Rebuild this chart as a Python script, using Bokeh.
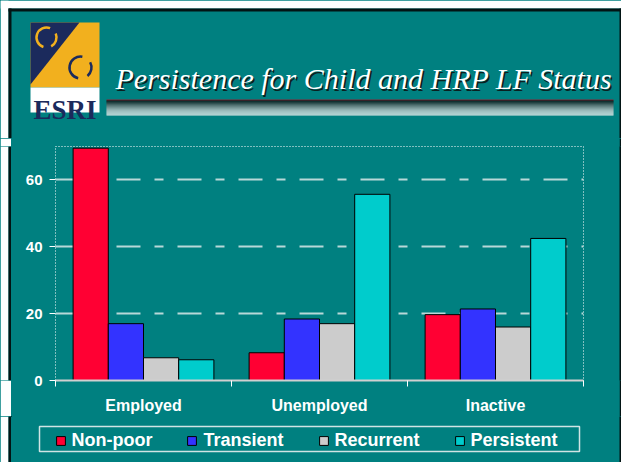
from bokeh.plotting import figure
from bokeh.models import (ColumnDataSource, Range1d, LinearAxis, FixedTicker, Legend, LegendItem)
from bokeh.transform import dodge
from bokeh.layouts import column, row
from bokeh.core.properties import value
from bokeh.embed import file_html
from bokeh.resources import INLINE

# ---------------- data ----------------
categories = ["Employed", "Unemployed", "Inactive"]
series_names = ["Non-poor", "Transient", "Recurrent", "Persistent"]
non_poor = [69.5, 8.3, 19.7]
transient = [17.0, 18.4, 21.4]
recurrent = [6.8, 17.0, 16.0]
persistent = [6.2, 55.7, 42.5]
y_ticks = [0, 20, 40, 60]
title_text = "Persistence for Child and HRP LF Status"
logo_text = "ESRI"

# ---------------- styles ----------------
TEAL = "#008080"
DARK = "#021414"
NAVY = "#1b2a5c"
GOLD = "#f2b01e"
bar_colors = ["#FF0033", "#3333FF", "#CCCCCC", "#00CCCC"]
SANS = "Liberation Sans"
SERIF = "Liberation Serif"


def blank(width, height, xr, yr, fill, border=None):
    f = figure(width=width, height=height, x_range=xr, y_range=yr,
               output_backend="svg", toolbar_location=None,
               x_axis_location=None, y_axis_location=None, min_border=0,
               background_fill_color=fill, border_fill_color=border or fill,
               outline_line_color=None)
    f.grid.visible = False
    return f


def side_strips(y0, y1):
    ls = blank(11, y1 - y0, Range1d(0, 11), Range1d(y1, y0), TEAL, border="white")
    ls.quad(left=[0, 8], right=[8, 11], top=[y0, y0], bottom=[y1, y1],
            fill_color=["white", DARK], line_color=None)
    rs = blank(2, y1 - y0, Range1d(0, 2), Range1d(y1, y0), DARK)
    return ls, rs


# ---------------- header (logo + title) ----------------
hdr = blank(621, 138, Range1d(0, 621), Range1d(138, 0), TEAL)
hdr.quad(left=[0, 0], right=[621, 8], top=[0, 0], bottom=[8, 138], fill_color="white", line_color=None)
hdr.quad(left=[8, 8, 619], right=[621, 11, 621], top=[8, 8, 8], bottom=[11, 138, 138],
         fill_color=DARK, line_color=None)
# logo
hdr.quad(left=[30], right=[99], top=[22], bottom=[87], fill_color=GOLD, line_color=None)
hdr.patch(x=[30, 79, 30], y=[22, 22, 84], fill_color=NAVY, line_color=None)
hdr.arc(x=[46, 46], y=[37, 37], radius=10, start_angle=[1.2, 5.2], end_angle=[4.4, 0.4],
        line_color=GOLD, line_width=2.5)
hdr.arc(x=[80, 80], y=[67, 67], radius=11, start_angle=[1.4, 5.4], end_angle=[4.5, 0.5],
        line_color=NAVY, line_width=2.5)
hdr.quad(left=[30], right=[99], top=[87], bottom=[112], fill_color="white", line_color=None)
hdr.text(x=[64.5], y=[109], text=[logo_text], text_font=value(SERIF), text_font_style="bold",
         text_font_size="27px", text_color=NAVY, text_align="center", text_baseline="alphabetic")
# title with shadow
hdr.text(x=[116.5], y=[79.5], text=[title_text], text_font=value(SERIF), text_font_style="italic",
         text_font_size="30px", text_color="#0a2020", text_baseline="alphabetic")
hdr.text(x=[115], y=[78], text=[title_text], text_font=value(SERIF), text_font_style="italic",
         text_font_size="30px", text_color="white", text_baseline="alphabetic")
# underline bar with gradient
hdr.quad(left=[106], right=[613], top=[99], bottom=[100.3], fill_color="#8a2030", line_color=None)
grad_tops = [100 + i for i in range(15)]
grad_cols = ["#%02x%02x%02x" % (g, g, g) for g in
             [10, 30, 50, 75, 100, 120, 140, 160, 178, 195, 208, 218, 226, 232, 236]]
hdr.quad(left=[106] * 15, right=[613] * 15, top=grad_tops, bottom=[t + 1 for t in grad_tops],
         fill_color=grad_cols, line_color=None)

# ---------------- chart ----------------
n_cat = len(categories)
centers = [i + 0.5 for i in range(n_cat)]
src = ColumnDataSource(dict(x=centers, s0=non_poor, s1=transient, s2=recurrent, s3=persistent))
p = figure(width=608, height=278, x_range=Range1d(0, n_cat),
           y_range=Range1d(0, 70), output_backend="svg", toolbar_location=None,
           x_axis_location=None,
           min_border_left=44, min_border_right=36, min_border_top=8, min_border_bottom=36,
           background_fill_color=TEAL, border_fill_color=TEAL)
p.outline_line_color = "white"
p.outline_line_dash = "1 2"
p.outline_line_width = 1

offsets = [-0.3, -0.1, 0.1, 0.3]
for i, (off, col) in enumerate(zip(offsets, bar_colors)):
    p.vbar(x=dodge("x", off), top="s%d" % i, width=0.2, source=src,
           fill_color=col, line_color="black", line_width=1)

# y axis
p.yaxis.ticker = FixedTicker(ticks=y_ticks)
p.yaxis.axis_line_color = None
p.yaxis.major_tick_line_color = "white"
p.yaxis.major_tick_out = 6
p.yaxis.major_tick_in = 0
p.yaxis.minor_tick_line_color = None
p.yaxis.major_label_standoff = 7
p.yaxis.major_label_text_color = "white"
p.yaxis.major_label_text_font = SANS
p.yaxis.major_label_text_font_style = "bold"
p.yaxis.major_label_text_font_size = "15px"

# grid
p.xgrid.visible = False
p.ygrid.ticker = FixedTicker(ticks=y_ticks)
p.ygrid.grid_line_color = "#b8d8d8"
p.ygrid.grid_line_width = 2
p.ygrid.grid_line_dash = "24 14 9 14"

# x axis: boundary ticks, then category labels
tax = LinearAxis(ticker=FixedTicker(ticks=list(range(n_cat + 1))),
                 major_label_text_font_size="0px", major_label_text_alpha=0, major_label_standoff=0,
                 major_tick_out=6, major_tick_in=0, minor_tick_line_color=None,
                 axis_line_color="#d0d0d0", axis_line_width=2, major_tick_line_color="white")
p.add_layout(tax, "below")
cax = LinearAxis(ticker=FixedTicker(ticks=centers),
                 major_label_overrides={c: name for c, name in zip(centers, categories)},
                 major_tick_line_color=None, minor_tick_line_color=None, axis_line_color=None,
                 major_tick_out=0, major_tick_in=0, major_label_standoff=10,
                 major_label_text_color="white", major_label_text_font=SANS,
                 major_label_text_font_style="bold", major_label_text_font_size="16px")
p.add_layout(cax, "below")

# ---------------- legend strip ----------------
leg = blank(608, 46, Range1d(11, 619), Range1d(462, 416), TEAL)
leg.quad(left=[39], right=[579], top=[426], bottom=[451], fill_alpha=0,
         line_color="#d0e4e4", line_width=1.5)
proxies = [leg.vbar(x=[-100], top=[0], width=1, fill_color=c, line_color="black", line_width=1)
           for c in bar_colors]
legend = Legend(items=[LegendItem(label=n, renderers=[r]) for n, r in zip(series_names, proxies)],
                orientation="horizontal", location=(43.5, 11), padding=2, spacing=34, margin=0,
                glyph_width=11, glyph_height=11, label_standoff=6, label_height=18,
                label_text_font=SANS, label_text_font_style="bold", label_text_font_size="18px",
                label_text_color="white", border_line_color=None, background_fill_alpha=0)
leg.add_layout(legend, "center")

ls1, rs1 = side_strips(138, 416)
ls2, rs2 = side_strips(416, 462)
layout = column(hdr, row(ls1, p, rs1, spacing=0), row(ls2, leg, rs2, spacing=0), spacing=0,
                styles={"background-color": TEAL})
open("out.html", "w").write(file_html(layout, INLINE))
